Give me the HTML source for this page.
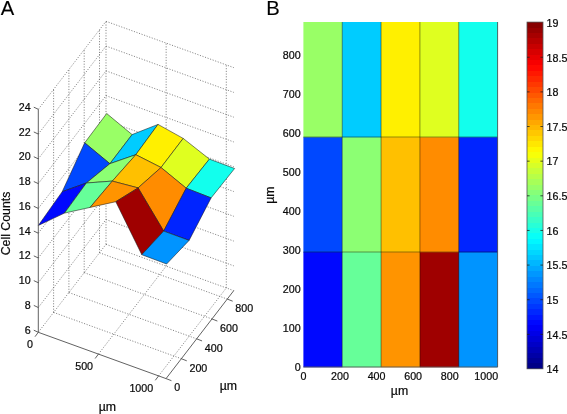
<!DOCTYPE html>
<html lang="en"><head><meta charset="utf-8"><title>Cell counts surface and map</title>
<style>html,body{margin:0;padding:0;background:#fff}body{width:567px;height:414px;overflow:hidden}svg{display:block}text{font-family:'Liberation Sans', Arial, Helvetica, sans-serif;fill:#0a0a0a;stroke:#0a0a0a;stroke-width:.22px}svg{will-change:transform}.t{font-size:10.7px}.l{font-size:12.3px}.p{font-size:20.2px;fill:#000;stroke-width:.12px}.g{stroke:#626262;stroke-width:.78;stroke-dasharray:1.1 1.6;fill:none}.a{stroke:#505050;stroke-width:.9;fill:none}.f{stroke:#1a1a1a;stroke-width:.55;stroke-linejoin:round}</style></head><body>
<svg width="567" height="414" viewBox="0 0 567 414">
<rect width="567" height="414" fill="#fff"/>
<text class="p" x="0.8" y="15.1">A</text>
<text class="p" x="266.2" y="15.2">B</text>
<path class="g" d="M38.3,332.3 L106,244.33 M106,244.33 L106,21.31 M98.45,354.1 L166.15,266.13 M166.15,266.13 L166.15,43.11 M158.6,375.9 L226.3,287.93 M226.3,287.93 L226.3,64.91 M53.6,312.42 L181.36,358.72 M53.6,312.42 L53.6,89.4 M68.9,292.54 L196.66,338.84 M68.9,292.54 L68.9,69.52 M84.2,272.66 L211.96,318.96 M84.2,272.66 L84.2,49.64 M99.5,252.78 L227.26,299.08 M99.5,252.78 L99.5,29.76 M106,244.33 L233.76,290.63 M38.3,307.52 L106,219.55 M106,219.55 L233.76,265.85 M38.3,282.74 L106,194.77 M106,194.77 L233.76,241.07 M38.3,257.96 L106,169.99 M106,169.99 L233.76,216.29 M38.3,233.18 L106,145.21 M106,145.21 L233.76,191.51 M38.3,208.4 L106,120.43 M106,120.43 L233.76,166.73 M38.3,183.62 L106,95.65 M106,95.65 L233.76,141.95 M38.3,158.84 L106,70.87 M106,70.87 L233.76,117.17 M38.3,134.06 L106,46.09 M106,46.09 L233.76,92.39 M38.3,109.28 L106,21.31 M106,21.31 L233.76,67.61"/>
<polygon class="f" fill="#99ff66" points="84.7,142.8 109.9,163.7 132.1,134.6 106.7,113.5"/>
<polygon class="f" fill="#00ccff" points="109.9,163.7 135.8,154.7 158,124.4 132.1,134.6"/>
<polygon class="f" fill="#fff000" points="135.8,154.7 161,167.5 183.2,138.4 158,124.4"/>
<polygon class="f" fill="#dfff20" points="161,167.5 186.2,188.2 209.4,159.1 183.2,138.4"/>
<polygon class="f" fill="#12ffed" points="186.2,188.2 211.1,197.9 234.6,168.5 209.4,159.1"/>
<polygon class="f" fill="#0048ff" points="62.2,191.7 86.4,183 109.9,163.7 84.7,142.8"/>
<polygon class="f" fill="#8cff73" points="86.4,183 112.3,181.1 135.8,154.7 109.9,163.7"/>
<polygon class="f" fill="#ffc000" points="112.3,181.1 138.1,187.9 161,167.5 135.8,154.7"/>
<polygon class="f" fill="#ff8c00" points="138.1,187.9 163.7,231.1 186.2,188.2 161,167.5"/>
<polygon class="f" fill="#0024ff" points="163.7,231.1 189.1,240.4 211.1,197.9 186.2,188.2"/>
<polygon class="f" fill="#0008ff" points="38.3,225.5 64.5,213.1 86.4,183 62.2,191.7"/>
<polygon class="f" fill="#66ff99" points="64.5,213.1 90.1,207.4 112.3,181.1 86.4,183"/>
<polygon class="f" fill="#ff9400" points="90.1,207.4 115.8,201.7 138.1,187.9 112.3,181.1"/>
<polygon class="f" fill="#9f0000" points="115.8,201.7 141.8,254.7 163.7,231.1 138.1,187.9"/>
<polygon class="f" fill="#0094ff" points="141.8,254.7 166.6,264 189.1,240.4 163.7,231.1"/>
<path class="a" d="M38.3,332.3 L166.06,378.6 M166.06,378.6 L233.76,290.63 M38.3,332.3 L38.3,109.28 M38.3,332.3 L35,336.7 M98.45,354.1 L95.15,358.5 M158.6,375.9 L155.3,380.3 M166.06,378.6 L171.46,380.7 M181.36,358.72 L186.76,360.82 M196.66,338.84 L202.06,340.94 M211.96,318.96 L217.36,321.06 M227.26,299.08 L232.66,301.18 M38.3,332.3 L33.8,330.2 M38.3,307.52 L33.8,305.42 M38.3,282.74 L33.8,280.64 M38.3,257.96 L33.8,255.86 M38.3,233.18 L33.8,231.08 M38.3,208.4 L33.8,206.3 M38.3,183.62 L33.8,181.52 M38.3,158.84 L33.8,156.74 M38.3,134.06 L33.8,131.96 M38.3,109.28 L33.8,107.18"/>
<text class="t" text-anchor="end" x="32.9" y="348.1">0</text>
<text class="t" text-anchor="end" x="93.05" y="369.9">500</text>
<text class="t" text-anchor="end" x="153.2" y="391.7">1000</text>
<text class="t" x="174.16" y="391.4">0</text>
<text class="t" x="189.46" y="371.52">200</text>
<text class="t" x="204.76" y="351.64">400</text>
<text class="t" x="220.06" y="331.76">600</text>
<text class="t" x="235.36" y="311.88">800</text>
<text class="t" text-anchor="end" x="30.6" y="333.8">6</text>
<text class="t" text-anchor="end" x="30.6" y="309.02">8</text>
<text class="t" text-anchor="end" x="30.6" y="284.24">10</text>
<text class="t" text-anchor="end" x="30.6" y="259.46">12</text>
<text class="t" text-anchor="end" x="30.6" y="234.68">14</text>
<text class="t" text-anchor="end" x="30.6" y="209.9">16</text>
<text class="t" text-anchor="end" x="30.6" y="185.12">18</text>
<text class="t" text-anchor="end" x="30.6" y="160.34">20</text>
<text class="t" text-anchor="end" x="30.6" y="135.56">22</text>
<text class="t" text-anchor="end" x="30.6" y="110.78">24</text>
<text class="l" text-anchor="middle" x="107.3" y="410.8">µm</text>
<text class="l" text-anchor="middle" x="228.4" y="390.4">µm</text>
<text class="l" text-anchor="middle" transform="translate(10.1 223.5) rotate(-90)">Cell Counts</text>
<rect x="303.4" y="252" width="39.14" height="115.3" fill="#0008ff"/>
<rect x="342.24" y="252" width="39.14" height="115.3" fill="#66ff99"/>
<rect x="381.08" y="252" width="39.14" height="115.3" fill="#ff9400"/>
<rect x="419.92" y="252" width="39.14" height="115.3" fill="#9f0000"/>
<rect x="458.76" y="252" width="39.14" height="115.3" fill="#0094ff"/>
<rect x="303.4" y="137" width="39.14" height="115.3" fill="#0048ff"/>
<rect x="342.24" y="137" width="39.14" height="115.3" fill="#8cff73"/>
<rect x="381.08" y="137" width="39.14" height="115.3" fill="#ffc000"/>
<rect x="419.92" y="137" width="39.14" height="115.3" fill="#ff8c00"/>
<rect x="458.76" y="137" width="39.14" height="115.3" fill="#0024ff"/>
<rect x="303.4" y="22" width="39.14" height="115.3" fill="#99ff66"/>
<rect x="342.24" y="22" width="39.14" height="115.3" fill="#00ccff"/>
<rect x="381.08" y="22" width="39.14" height="115.3" fill="#fff000"/>
<rect x="419.92" y="22" width="39.14" height="115.3" fill="#dfff20"/>
<rect x="458.76" y="22" width="39.14" height="115.3" fill="#12ffed"/>
<path d="M342.24,22 V367 M381.08,22 V367 M419.92,22 V367 M458.76,22 V367 M303.4,252 H497.6 M303.4,137 H497.6" stroke="#000" stroke-opacity=".6" stroke-width=".7" fill="none"/>
<path d="M303.4,367 H497.6 V22" stroke="#555" stroke-width=".9" fill="none"/>
<text class="t" text-anchor="middle" x="303.4" y="379.9">0</text>
<text class="t" text-anchor="middle" x="339.97" y="379.9">200</text>
<text class="t" text-anchor="middle" x="376.55" y="379.9">400</text>
<text class="t" text-anchor="middle" x="413.12" y="379.9">600</text>
<text class="t" text-anchor="middle" x="449.69" y="379.9">800</text>
<text class="t" text-anchor="middle" x="486.26" y="379.9">1000</text>
<text class="t" text-anchor="end" x="300.6" y="370.8">0</text>
<text class="t" text-anchor="end" x="300.6" y="331.82">100</text>
<text class="t" text-anchor="end" x="300.6" y="292.83">200</text>
<text class="t" text-anchor="end" x="300.6" y="253.85">300</text>
<text class="t" text-anchor="end" x="300.6" y="214.87">400</text>
<text class="t" text-anchor="end" x="300.6" y="175.88">500</text>
<text class="t" text-anchor="end" x="300.6" y="136.9">600</text>
<text class="t" text-anchor="end" x="300.6" y="97.92">700</text>
<text class="t" text-anchor="end" x="300.6" y="58.94">800</text>
<text class="l" text-anchor="middle" x="399.5" y="394.6">µm</text>
<text class="l" text-anchor="middle" transform="translate(274 195.2) rotate(-90)">µm</text>
<g shape-rendering="crispEdges">
<rect x="527" y="22.1" width="16" height="346.7" fill="#000087"/>
<rect x="527" y="22.1" width="16" height="341.28" fill="#000097"/>
<rect x="527" y="22.1" width="16" height="335.87" fill="#0000a7"/>
<rect x="527" y="22.1" width="16" height="330.45" fill="#0000b7"/>
<rect x="527" y="22.1" width="16" height="325.03" fill="#0000c7"/>
<rect x="527" y="22.1" width="16" height="319.61" fill="#0000d7"/>
<rect x="527" y="22.1" width="16" height="314.2" fill="#0000e7"/>
<rect x="527" y="22.1" width="16" height="308.78" fill="#0000f7"/>
<rect x="527" y="22.1" width="16" height="303.36" fill="#0008ff"/>
<rect x="527" y="22.1" width="16" height="297.95" fill="#0018ff"/>
<rect x="527" y="22.1" width="16" height="292.53" fill="#0028ff"/>
<rect x="527" y="22.1" width="16" height="287.11" fill="#0038ff"/>
<rect x="527" y="22.1" width="16" height="281.69" fill="#0048ff"/>
<rect x="527" y="22.1" width="16" height="276.28" fill="#0058ff"/>
<rect x="527" y="22.1" width="16" height="270.86" fill="#0068ff"/>
<rect x="527" y="22.1" width="16" height="265.44" fill="#0078ff"/>
<rect x="527" y="22.1" width="16" height="260.03" fill="#0087ff"/>
<rect x="527" y="22.1" width="16" height="254.61" fill="#0097ff"/>
<rect x="527" y="22.1" width="16" height="249.19" fill="#00a7ff"/>
<rect x="527" y="22.1" width="16" height="243.77" fill="#00b7ff"/>
<rect x="527" y="22.1" width="16" height="238.36" fill="#00c7ff"/>
<rect x="527" y="22.1" width="16" height="232.94" fill="#00d7ff"/>
<rect x="527" y="22.1" width="16" height="227.52" fill="#00e7ff"/>
<rect x="527" y="22.1" width="16" height="222.1" fill="#00f7ff"/>
<rect x="527" y="22.1" width="16" height="216.69" fill="#08fff7"/>
<rect x="527" y="22.1" width="16" height="211.27" fill="#18ffe7"/>
<rect x="527" y="22.1" width="16" height="205.85" fill="#28ffd7"/>
<rect x="527" y="22.1" width="16" height="200.44" fill="#38ffc7"/>
<rect x="527" y="22.1" width="16" height="195.02" fill="#48ffb7"/>
<rect x="527" y="22.1" width="16" height="189.6" fill="#58ffa7"/>
<rect x="527" y="22.1" width="16" height="184.18" fill="#68ff97"/>
<rect x="527" y="22.1" width="16" height="178.77" fill="#78ff87"/>
<rect x="527" y="22.1" width="16" height="173.35" fill="#87ff78"/>
<rect x="527" y="22.1" width="16" height="167.93" fill="#97ff68"/>
<rect x="527" y="22.1" width="16" height="162.52" fill="#a7ff58"/>
<rect x="527" y="22.1" width="16" height="157.1" fill="#b7ff48"/>
<rect x="527" y="22.1" width="16" height="151.68" fill="#c7ff38"/>
<rect x="527" y="22.1" width="16" height="146.26" fill="#d7ff28"/>
<rect x="527" y="22.1" width="16" height="140.85" fill="#e7ff18"/>
<rect x="527" y="22.1" width="16" height="135.43" fill="#f7ff08"/>
<rect x="527" y="22.1" width="16" height="130.01" fill="#fff700"/>
<rect x="527" y="22.1" width="16" height="124.6" fill="#ffe700"/>
<rect x="527" y="22.1" width="16" height="119.18" fill="#ffd700"/>
<rect x="527" y="22.1" width="16" height="113.76" fill="#ffc700"/>
<rect x="527" y="22.1" width="16" height="108.34" fill="#ffb700"/>
<rect x="527" y="22.1" width="16" height="102.93" fill="#ffa700"/>
<rect x="527" y="22.1" width="16" height="97.51" fill="#ff9700"/>
<rect x="527" y="22.1" width="16" height="92.09" fill="#ff8700"/>
<rect x="527" y="22.1" width="16" height="86.68" fill="#ff7800"/>
<rect x="527" y="22.1" width="16" height="81.26" fill="#ff6800"/>
<rect x="527" y="22.1" width="16" height="75.84" fill="#ff5800"/>
<rect x="527" y="22.1" width="16" height="70.42" fill="#ff4800"/>
<rect x="527" y="22.1" width="16" height="65.01" fill="#ff3800"/>
<rect x="527" y="22.1" width="16" height="59.59" fill="#ff2800"/>
<rect x="527" y="22.1" width="16" height="54.17" fill="#ff1800"/>
<rect x="527" y="22.1" width="16" height="48.75" fill="#ff0800"/>
<rect x="527" y="22.1" width="16" height="43.34" fill="#f70000"/>
<rect x="527" y="22.1" width="16" height="37.92" fill="#e70000"/>
<rect x="527" y="22.1" width="16" height="32.5" fill="#d70000"/>
<rect x="527" y="22.1" width="16" height="27.09" fill="#c70000"/>
<rect x="527" y="22.1" width="16" height="21.67" fill="#b70000"/>
<rect x="527" y="22.1" width="16" height="16.25" fill="#a70000"/>
<rect x="527" y="22.1" width="16" height="10.83" fill="#970000"/>
<rect x="527" y="22.1" width="16" height="5.42" fill="#870000"/>
</g>
<rect x="527" y="22.1" width="16" height="346.7" fill="none" stroke="#555" stroke-width=".8"/>
<text class="t" x="546.6" y="373.3">14</text>
<text class="t" x="546.6" y="338.66">14.5</text>
<text class="t" x="546.6" y="304.02">15</text>
<text class="t" x="546.6" y="269.38">15.5</text>
<text class="t" x="546.6" y="234.74">16</text>
<text class="t" x="546.6" y="200.1">16.5</text>
<text class="t" x="546.6" y="165.46">17</text>
<text class="t" x="546.6" y="130.82">17.5</text>
<text class="t" x="546.6" y="96.18">18</text>
<text class="t" x="546.6" y="61.54">18.5</text>
<text class="t" x="546.6" y="26.9">19</text>
<path d="M527,334.36 h2.6 M543,334.36 h-2.6 M527,299.72 h2.6 M543,299.72 h-2.6 M527,265.08 h2.6 M543,265.08 h-2.6 M527,230.44 h2.6 M543,230.44 h-2.6 M527,195.8 h2.6 M543,195.8 h-2.6 M527,161.16 h2.6 M543,161.16 h-2.6 M527,126.52 h2.6 M543,126.52 h-2.6 M527,91.88 h2.6 M543,91.88 h-2.6 M527,57.24 h2.6 M543,57.24 h-2.6" stroke="#222" stroke-width=".8" fill="none"/>
</svg></body></html>
